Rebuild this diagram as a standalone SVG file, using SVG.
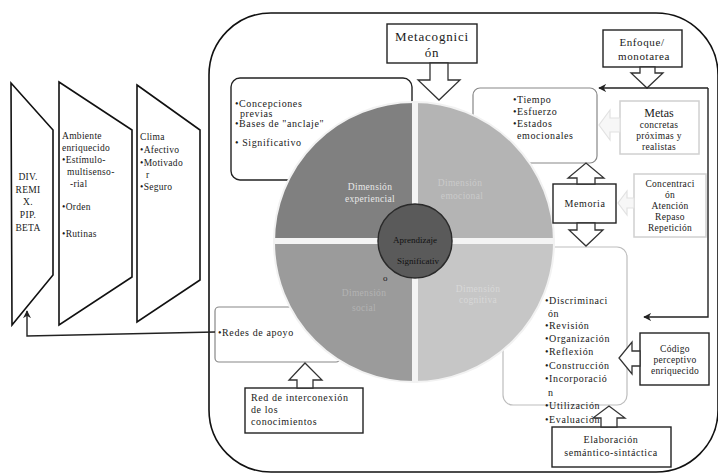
<svg xmlns="http://www.w3.org/2000/svg" width="718" height="475" viewBox="0 0 718 475">
<defs>
<marker id="ah" viewBox="0 0 10 10" refX="9" refY="5" markerWidth="8" markerHeight="8" orient="auto-start-reverse" markerUnits="userSpaceOnUse">
<path d="M0,0 L10,5 L0,10 L3,5 Z" fill="#222"/>
</marker>
<style>
text{font-family:"Liberation Serif","Times New Roman",serif;fill:#1a1a1a}
.s9{font-size:9.5px;letter-spacing:0.3px}
.s10{font-size:10px;letter-spacing:0.6px}
.s11{font-size:11px;letter-spacing:0.6px}
.s12{font-size:13px;letter-spacing:0.8px}
.door{fill:#fff;stroke:#111;stroke-width:1.6}
.box{fill:#fff;stroke:#222;stroke-width:1.4}
.gbox{fill:#fff;stroke:#888;stroke-width:1.2}
.lbox{fill:#fff;stroke:#d0d0d0;stroke-width:1.5}
.blk{fill:#fff;stroke:#333;stroke-width:1.3;stroke-linejoin:miter}
.faint{fill:#f7f7f7;stroke:#e2e2e2;stroke-width:1.2}
.conn{fill:none;stroke:#222;stroke-width:1.4}
.mid{text-anchor:middle}
</style>
</defs>
<rect width="718" height="475" fill="#fff"/>

<g id="frame"><rect x="209" y="13" width="509" height="459" rx="62" ry="62" fill="none" stroke="#111" stroke-width="1.6"/></g>

<g id="door1">
<polygon class="door" points="11,83 53,130 53,275 12,325"/>
<text class="s9 mid" x="28" y="180">DIV.</text>
<text class="s9 mid" x="28" y="193">REMI</text>
<text class="s9 mid" x="28" y="205">X.</text>
<text class="s9 mid" x="28" y="218">PIP.</text>
<text class="s9 mid" x="28" y="231">BETA</text>
</g>
<g id="door2">
<polygon class="door" points="59,82 132,130 132,277 59,325"/>
<text class="s9" x="62" y="139">Ambiente</text>
<text class="s9" x="62" y="151">enriquecido</text>
<text class="s9" x="62" y="163">•Estímulo-</text>
<text class="s9" x="67" y="175">multisenso-</text>
<text class="s9" x="70" y="187">-rial</text>
<text class="s9" x="62" y="210">•Orden</text>
<text class="s9" x="62" y="237">•Rutinas</text>
</g>
<g id="door3">
<polygon class="door" points="137,85 200,130 200,280 137,322"/>
<text class="s9" x="140" y="140">Clima</text>
<text class="s9" x="140" y="153">•Afectivo</text>
<text class="s9" x="140" y="166">•Motivado</text>
<text class="s9" x="146" y="178">r</text>
<text class="s9" x="140" y="190">•Seguro</text>
</g>

<g id="concepciones">
<rect class="box" x="231" y="78" width="181" height="102" rx="9" stroke="#555"/>
<text class="s10" x="235" y="107">•Concepciones</text>
<text class="s10" x="240" y="117">previas</text>
<text class="s10" x="235" y="127">•Bases de "anclaje"</text>
<text class="s10" x="235" y="146">• Significativo</text>
</g>

<g id="tiempo">
<rect class="gbox" x="473" y="88" width="124" height="75" rx="7"/>
<text class="s10" x="513" y="103">•Tiempo</text>
<text class="s10" x="513" y="115">•Esfuerzo</text>
<text class="s10" x="513" y="127">•Estados</text>
<text class="s10" x="517" y="139">emocionales</text>
</g>

<g id="redes">
<rect class="gbox" x="215" y="307" width="125" height="55" rx="4"/>
<text class="s10" x="218" y="336">•Redes de apoyo</text>
</g>

<g id="procesos">
<rect x="503" y="247" width="124" height="158" rx="10" fill="#fff" stroke="#bdbdbd" stroke-width="1.2"/>
<text class="s10" x="545" y="304">•Discriminaci</text>
<text class="s10" x="548" y="317">ón</text>
<text class="s10" x="545" y="329">•Revisión</text>
<text class="s10" x="545" y="342">•Organización</text>
<text class="s10" x="545" y="355">•Reflexión</text>
<text class="s10" x="545" y="369">•Construcción</text>
<text class="s10" x="545" y="382">•Incorporació</text>
<text class="s10" x="548" y="396">n</text>
<text class="s10" x="545" y="409">•Utilización</text>
<text class="s10" x="545" y="423">•Evaluación</text>
</g>

<g id="circulo">
<path d="M414,242 L274,242 A140,140 0 0 1 414,102 Z" fill="#808080"/>
<path d="M414,242 L414,102 A140,140 0 0 1 554,242 Z" fill="#b4b4b4"/>
<path d="M414,242 L554,242 A140,140 0 0 1 414,382 Z" fill="#c6c6c6"/>
<path d="M414,242 L414,382 A140,140 0 0 1 274,242 Z" fill="#9b9b9b"/>
<line x1="273" y1="241" x2="555" y2="241" stroke="#f4f4f4" stroke-width="6"/>
<line x1="415" y1="101" x2="415" y2="383" stroke="#f4f4f4" stroke-width="6"/>
<circle cx="414" cy="242" r="140" fill="none" stroke="#f2f2f2" stroke-width="2"/>
<text class="s9 mid" x="370" y="190" style="fill:#e8e8e8">Dimensión</text>
<text class="s9 mid" x="370" y="202" style="fill:#e8e8e8">experiencial</text>
<text class="s9 mid" x="460" y="186" style="fill:#cacaca">Dimensión</text>
<text class="s9 mid" x="462" y="199" style="fill:#cacaca">emocional</text>
<text class="s9 mid" x="364" y="296" style="fill:#b3b3b3">Dimensión</text>
<text class="s9 mid" x="364" y="311" style="fill:#b3b3b3">social</text>
<text class="s9 mid" x="478" y="292" style="fill:#d8d8d8">Dimensión</text>
<text class="s9 mid" x="478" y="303" style="fill:#d8d8d8">cognitiva</text>
</g>

<g id="centro">
<circle cx="415" cy="241" r="37" fill="#5a5a5a" stroke="#2a2a2a" stroke-width="1.5"/>
<text class="mid" x="415" y="243" style="fill:#111;font-size:9px">Aprendizaje</text>
<text class="mid" x="418" y="264" style="fill:#111;font-size:9px">Significativ</text>
<text x="383" y="281" style="fill:#222;font-size:9px">o</text>
</g>

<g id="metacognicion">
<rect class="box" x="387" y="24" width="90" height="39"/>
<text class="s12 mid" x="432" y="41">Metacognici</text>
<text class="s12 mid" x="432" y="57">ón</text>
</g>

<g id="enfoque">
<rect class="box" x="603" y="30" width="79" height="37"/>
<text class="s11 mid" x="642" y="46">Enfoque/</text>
<text class="s11 mid" x="644" y="60">monotarea</text>
</g>

<g id="metas">
<rect class="lbox" x="620" y="101" width="79" height="53"/>
<text class="mid" x="659" y="117" style="font-size:12px">Metas</text>
<text class="s9 mid" x="659" y="128">concretas</text>
<text class="s9 mid" x="659" y="139">próximas y</text>
<text class="s9 mid" x="659" y="150">realistas</text>
</g>

<g id="concentracion">
<rect class="lbox" x="634" y="174" width="72" height="63"/>
<text class="s9 mid" x="670" y="187">Concentraci</text>
<text class="s9 mid" x="670" y="198">ón</text>
<text class="s9 mid" x="670" y="209">Atención</text>
<text class="s9 mid" x="670" y="220">Repaso</text>
<text class="s9 mid" x="670" y="231">Repetición</text>
</g>

<g id="memoria">
<rect class="box" x="553" y="184" width="63" height="39"/>
<text class="s10 mid" x="585" y="207">Memoria</text>
</g>

<g id="codigo">
<rect class="box" x="640" y="333" width="69" height="52" stroke="#444"/>
<text class="s9 mid" x="675" y="352">Código</text>
<text class="s9 mid" x="675" y="363">perceptivo</text>
<text class="s9 mid" x="675" y="374">enriquecido</text>
</g>

<g id="elaboracion">
<rect class="box" x="552" y="427" width="119" height="40" stroke="#444"/>
<text class="s10 mid" x="611" y="443">Elaboración</text>
<text class="s10 mid" x="611" y="456">semántico-sintáctica</text>
</g>

<g id="red">
<rect class="box" x="245" y="388" width="118" height="45" stroke="#555"/>
<text class="s10" x="251" y="401">Red de interconexión</text>
<text class="s10" x="251" y="413">de los</text>
<text class="s10" x="251" y="425">conocimientos</text>
</g>

<g id="connectors">
<polygon class="blk" points="430,63 448,63 448,80 460,80 439,100 418,80 430,80"/>
<polygon class="blk" points="640,67 655,67 655,73 663,73 647,88 631,73 640,73"/>
<polygon class="blk" points="577,184 577,178 568,178 586,163 604,178 595,178 595,184"/>
<polygon class="blk" points="577,223 595,223 595,230 603,230 586,246 569,230 577,230"/>
<polygon class="blk" points="640,351 632,351 632,342 619,358 632,374 632,366 640,366"/>
<polygon class="blk" points="601,427 601,418 593,418 609,406 625,418 617,418 617,427"/>
<polygon class="blk" points="297,388 297,380 289,380 305,363 322,380 313,380 313,388"/>
<polygon class="faint" points="620,118 610,118 610,110 599,125 610,140 610,132 620,132"/>
<polygon class="faint" points="634,198 627,198 627,191 618,203 627,215 627,208 634,208"/>
<polyline class="conn" points="708,88 708,317 644,317" marker-end="url(#ah)"/>
<line class="conn" x1="708" y1="88" x2="599" y2="88" marker-end="url(#ah)"/>
<polyline class="conn" points="215,332 27,336 27,311" marker-end="url(#ah)"/>
</g>
</svg>
